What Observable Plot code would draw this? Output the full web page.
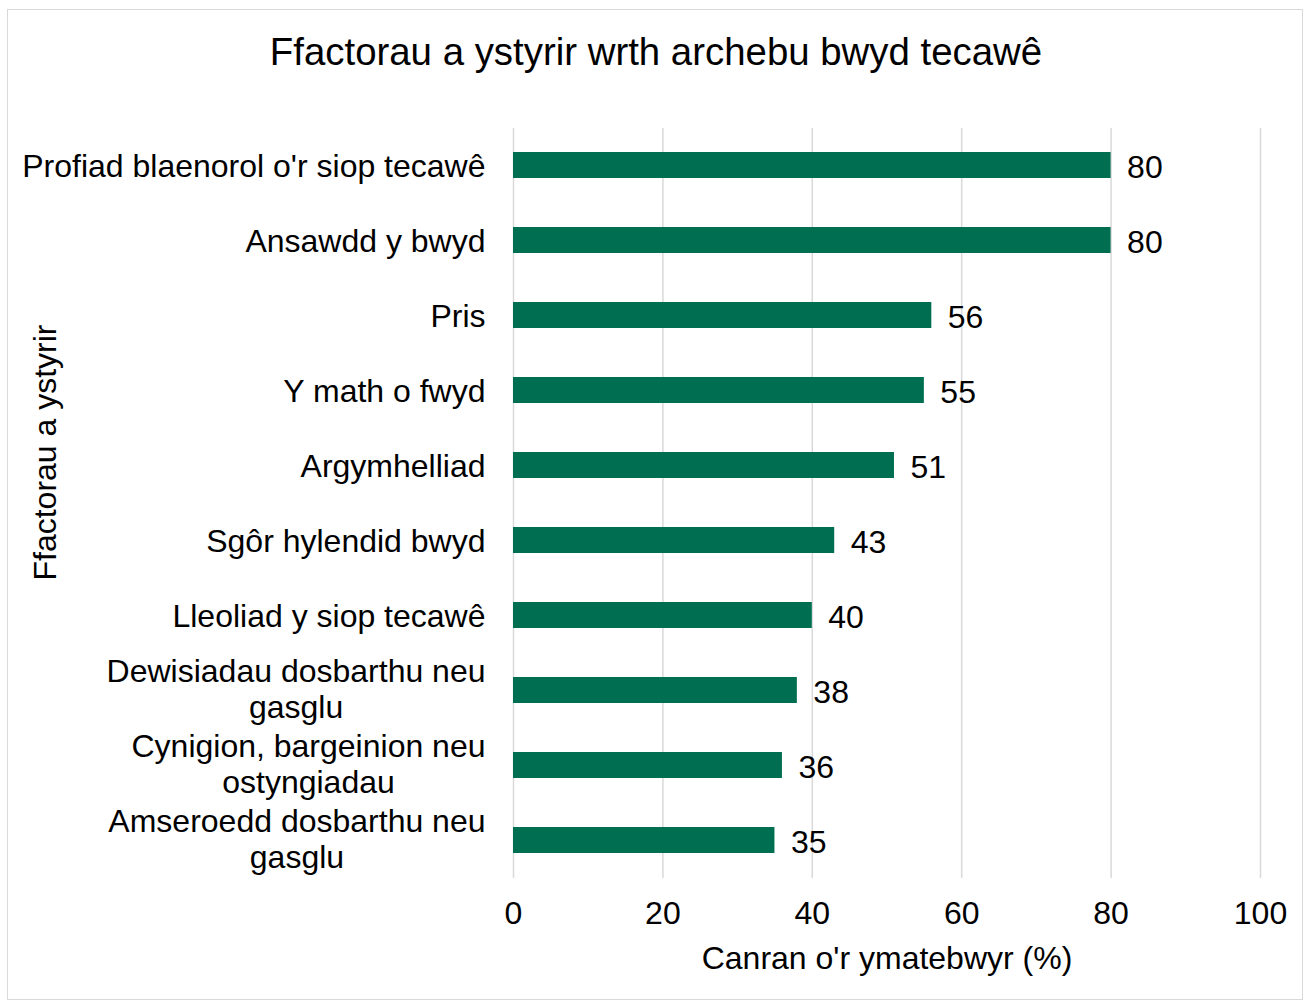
<!DOCTYPE html>
<html><head><meta charset="utf-8">
<script src="https://cdn.jsdelivr.net/npm/d3@7"></script>
<script src="https://cdn.jsdelivr.net/npm/@observablehq/plot@0.6"></script>
<style>
html,body{margin:0;padding:0;background:#fff;}
body{width:1306px;height:1008px;position:relative;overflow:hidden;font-family:"Liberation Sans",Arial,sans-serif;}
#frame{position:absolute;left:7px;top:9px;width:1296px;height:991px;border:1.5px solid #d9d9d9;box-sizing:border-box;}
#title{position:absolute;left:0;top:33px;width:1312px;text-align:center;font-size:38.4px;line-height:38px;color:#000;}
#chart{position:absolute;left:0;top:100px;}
</style></head><body>
<div id="frame"></div>
<div id="title"></div>
<div id="chart"></div>
<script>
const chartTitle = "Ffactorau a ystyrir wrth archebu bwyd tecawê";
const xAxisTitle = "Canran o'r ymatebwyr (%)";
const yAxisTitle = "Ffactorau a ystyrir";
const categories = [
  "Profiad blaenorol o'r siop tecawê",
  "Ansawdd y bwyd",
  "Pris",
  "Y math o fwyd",
  "Argymhelliad",
  "Sgôr hylendid bwyd",
  "Lleoliad y siop tecawê",
  "Dewisiadau dosbarthu neu\ngasglu",
  "Cynigion, bargeinion neu\nostyngiadau",
  "Amseroedd dosbarthu neu\ngasglu"
];
const values = [80, 80, 56, 55, 51, 43, 40, 38, 36, 35];
const xTicks = [0, 20, 40, 60, 80, 100];

document.getElementById("title").textContent = chartTitle;
const data = categories.map((c, i) => ({label: c, value: values[i]}));

const chart = Plot.plot({
  width: 1306, height: 900,
  marginLeft: 513, marginRight: 46, marginTop: 28, marginBottom: 122,
  style: {fontFamily: "'Liberation Sans', Arial, sans-serif", fontSize: "32px", color: "#000", background: "transparent", overflow: "visible"},
  x: {domain: [0, 100]},
  y: {domain: categories, paddingInner: 0.65, paddingOuter: 0.325},
  marks: [
    Plot.gridX(xTicks, {stroke: "#d9d9d9", strokeOpacity: 1, strokeWidth: 1.5}),
    Plot.barX(data, {x: "value", y: "label", fill: "#006f51"}),
    Plot.text(data, {x: "value", y: "label", text: d => String(d.value), textAnchor: "start", dx: 16, dy: 2, fill: "#000"}),
    Plot.axisX(xTicks, {tickSize: 0, tickPadding: 23, label: null}),
    Plot.axisY({tickSize: 0, tickPadding: 28, label: null, lineHeight: 1.125}),
    Plot.text([xAxisTitle], {frameAnchor: "bottom", dy: 80, lineAnchor: "middle", fill: "#000"}),
    Plot.text([yAxisTitle], {frameAnchor: "left", dx: -468, dy: -51, rotate: -90, textAnchor: "middle", lineAnchor: "middle", fill: "#000"})
  ]
});
document.getElementById("chart").appendChild(chart);

// center-align wrapped category labels within their block (as in the original)
chart.querySelectorAll('g[aria-label="y-axis tick label"] text').forEach(t => {
  const spans = t.querySelectorAll("tspan");
  if (spans.length > 1) {
    let w = 0;
    spans.forEach(s => { w = Math.max(w, s.getComputedTextLength()); });
    t.setAttribute("text-anchor", "middle");
    t.setAttribute("dy", "-2");
    spans.forEach(s => s.setAttribute("x", String(-w / 2)));
  }
});
</script>
</body></html>
